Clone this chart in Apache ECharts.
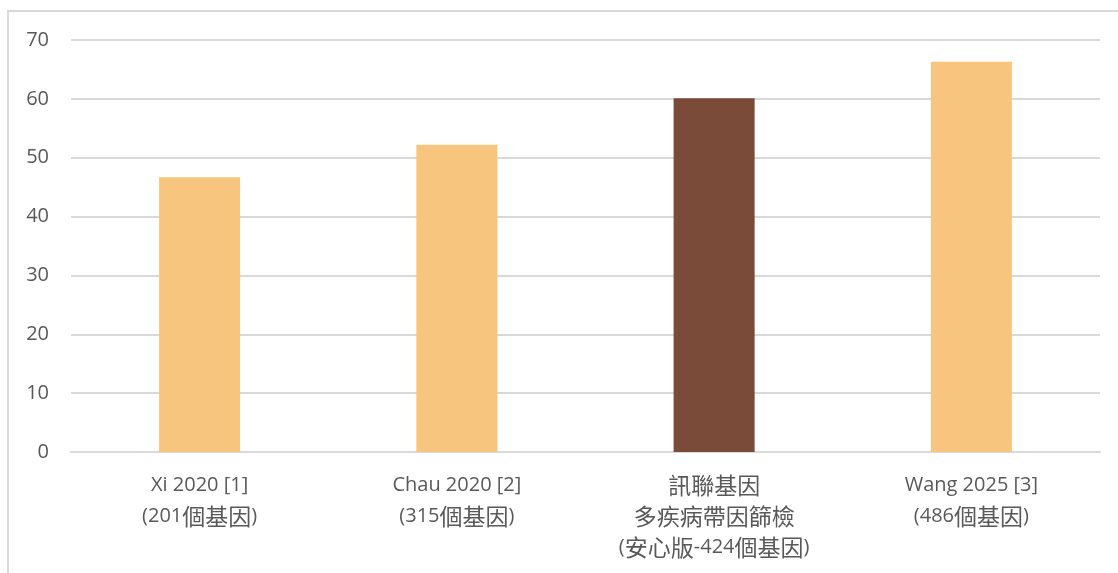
<!DOCTYPE html>
<html><head><meta charset="utf-8">
<script src="https://cdn.jsdelivr.net/npm/echarts@6/dist/echarts.min.js"></script>
<style>
html,body{margin:0;padding:0;background:#fff;overflow:hidden}
#frame{position:absolute;left:7px;top:10px;width:1200px;height:700px;border:2px solid #D9D9D9;box-sizing:border-box}
#c{position:absolute;left:0;top:0;width:1118px;height:573px}
</style></head>
<body>
<div id="frame"></div>
<div id="c"></div>
<script>
const categories = ['Xi 2020 [1]\n(201個基因)', 'Chau 2020 [2]\n(315個基因)', '訊聯基因\n多疾病帶因篩檢\n(安心版-424個基因)', 'Wang 2025 [3]\n(486個基因)'];
const values = [46.7, 52.2, 60.1, 66.3];
const highlightIndex = 2;
const colors = { base: '#F7C57D', highlight: '#7B4B3A' };

function richLabel(s) {
  return s.split('\n').map(line => {
    let out = '', cur = '', curCjk = null;
    for (const ch of line) {
      const isCjk = /[\u3000-\u9fff\uff00-\uffef]/.test(ch);
      if (curCjk !== null && isCjk !== curCjk) { out += '{' + (curCjk ? 'c' : 'l') + '|' + cur + '}'; cur = ''; }
      cur += ch; curCjk = isCjk;
    }
    if (cur) out += '{' + (curCjk ? 'c' : 'l') + '|' + cur + '}';
    return out;
  }).join('\n');
}

const chart = echarts.init(document.getElementById('c'), null, {renderer:'canvas'});
chart.setOption({
  backgroundColor: 'transparent',
  animation: false,
  grid: { left: 71, right: 18, top: 40, bottom: 121, containLabel: false },
  xAxis: {
    type: 'category', data: categories,
    axisLine: { lineStyle: { color: '#D9D9D9', width: 2 } },
    axisTick: { show: false },
    axisLabel: { color: '#595959', fontSize: 20, lineHeight: 31, margin: 18, interval: 0,
      formatter: v => richLabel(v),
      rich: {
        l: { fontSize: 20, lineHeight: 31, color: '#595959', fontFamily: '"Open Sans",sans-serif' },
        c: { fontSize: 23, lineHeight: 31, color: '#595959', fontFamily: '"Noto Sans CJK TC",sans-serif' }
      } }
  },
  yAxis: {
    type: 'value', min: 0, max: 70, interval: 10,
    axisLine: { show: false }, axisTick: { show: false },
    splitLine: { lineStyle: { color: '#D9D9D9', width: 2 } },
    axisLabel: { color: '#595959', fontSize: 20, margin: 22,
      fontFamily: '"Open Sans","Noto Sans",sans-serif' }
  },
  series: [{
    type: 'bar', barWidth: '31.5%',
    data: values.map((v, i) => ({ value: v, itemStyle: { color: i === highlightIndex ? colors.highlight : colors.base } }))
  }]
});
</script>
</body></html>
